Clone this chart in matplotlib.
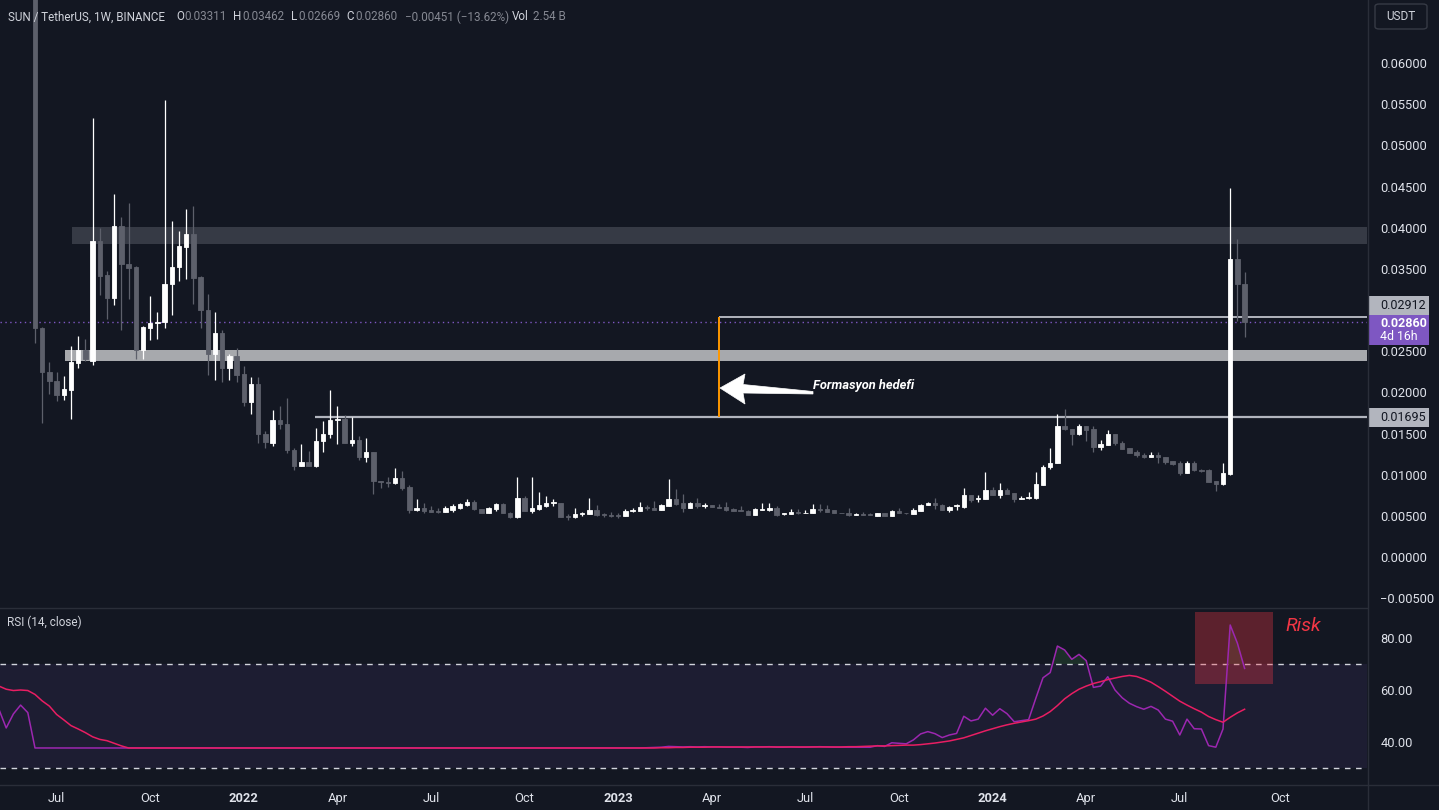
import matplotlib
matplotlib.use('Agg')
import matplotlib.pyplot as plt
import matplotlib.dates as mdates
from matplotlib.patches import Rectangle, Polygon, FancyBboxPatch
from matplotlib.lines import Line2D
from matplotlib.ticker import FuncFormatter
import numpy as np
import pandas as pd

plt.rcParams['font.family'] = ['Roboto', 'DejaVu Sans']

# ---------------- data (weekly candles, SUN/USDT) ----------------
first_week = '2021-06-14'
opens = [
    0.0850, 0.0278, 0.0225, 0.0214, 0.0197, 0.0203, 0.0236, 0.0251, 0.0238, 0.0384,
    0.0342, 0.0315, 0.0402, 0.0356, 0.0352, 0.0251, 0.0278, 0.0284, 0.0285, 0.0331,
    0.0352, 0.0377, 0.0392, 0.0340, 0.0300, 0.0247, 0.0272, 0.0230, 0.0244, 0.0222,
    0.0188, 0.0210, 0.0149, 0.0139, 0.0167, 0.0162, 0.0130, 0.0111, 0.0115, 0.0110,
    0.0141, 0.0149, 0.0166, 0.0168, 0.0139, 0.0142, 0.0121, 0.0128, 0.0092, 0.0091,
    0.0090, 0.0096, 0.0085, 0.0057, 0.0060, 0.0057, 0.0056, 0.0055, 0.0057, 0.0059,
    0.0063, 0.0067, 0.0058, 0.0054, 0.0058, 0.0064, 0.0054, 0.0048, 0.0072, 0.0056,
    0.0058, 0.0062, 0.0065, 0.0065, 0.0050, 0.0048, 0.0052, 0.0052, 0.0057, 0.0052,
    0.0051, 0.0051, 0.0050, 0.0056, 0.0056, 0.0061, 0.0060, 0.0057, 0.0062, 0.0070,
    0.0065, 0.0060, 0.0065, 0.0062, 0.0063, 0.0061, 0.0061, 0.0058, 0.0057, 0.0056,
    0.0051, 0.0057, 0.0057, 0.0060, 0.0052, 0.0052, 0.0055, 0.0053, 0.0053, 0.0058,
    0.0058, 0.0057, 0.0054, 0.0053, 0.0051, 0.0052, 0.0052, 0.0050, 0.0053, 0.0050,
    0.0056, 0.0054, 0.0052, 0.0056, 0.0063, 0.0066, 0.0063, 0.0057, 0.0062, 0.0061,
    0.0075, 0.0070, 0.0071, 0.0081, 0.0075, 0.0081, 0.0078, 0.0071, 0.0072, 0.0072,
    0.0088, 0.0109, 0.0114, 0.0159, 0.0156, 0.0149, 0.0159, 0.0155, 0.0134, 0.0136,
    0.0149, 0.0139, 0.0132, 0.0127, 0.0124, 0.0121, 0.0124, 0.0122, 0.0116, 0.0114,
    0.0102, 0.0114, 0.0106, 0.0106, 0.0092, 0.0089, 0.0101, 0.0362, 0.03311,
]
highs = [
    0.0950, 0.0279, 0.0237, 0.0225, 0.0220, 0.0256, 0.0268, 0.0265, 0.0533, 0.0400,
    0.0347, 0.0441, 0.0413, 0.0430, 0.0354, 0.0280, 0.0317, 0.0298, 0.0555, 0.0408,
    0.0396, 0.0423, 0.0426, 0.0341, 0.0319, 0.0298, 0.0276, 0.0246, 0.0254, 0.0232,
    0.0219, 0.0219, 0.0153, 0.0179, 0.0183, 0.0193, 0.0132, 0.0137, 0.0129, 0.0157,
    0.0165, 0.0203, 0.0183, 0.0173, 0.0170, 0.0147, 0.0145, 0.0128, 0.0092, 0.0097,
    0.0108, 0.0105, 0.0088, 0.0071, 0.0066, 0.0062, 0.0059, 0.0062, 0.0064, 0.0066,
    0.0071, 0.0069, 0.0058, 0.0061, 0.0066, 0.0066, 0.0055, 0.0097, 0.0074, 0.0097,
    0.0079, 0.0074, 0.0071, 0.0066, 0.0052, 0.0060, 0.0055, 0.0072, 0.0063, 0.0053,
    0.0055, 0.0053, 0.0058, 0.0060, 0.0067, 0.0063, 0.0068, 0.0064, 0.0095, 0.0083,
    0.0077, 0.0067, 0.0072, 0.0065, 0.0063, 0.0064, 0.0067, 0.0059, 0.0062, 0.0057,
    0.0060, 0.0065, 0.0065, 0.0062, 0.0054, 0.0058, 0.0058, 0.0057, 0.0064, 0.0064,
    0.0063, 0.0057, 0.0054, 0.0059, 0.0054, 0.0055, 0.0053, 0.0054, 0.0054, 0.0057,
    0.0059, 0.0054, 0.0059, 0.0064, 0.0067, 0.0072, 0.0064, 0.0062, 0.0064, 0.0084,
    0.0075, 0.0075, 0.0103, 0.0085, 0.0090, 0.0084, 0.0078, 0.0074, 0.0079, 0.0103,
    0.0112, 0.0132, 0.0174, 0.0180, 0.0156, 0.0162, 0.0159, 0.0159, 0.0142, 0.0154,
    0.0150, 0.0141, 0.0132, 0.0130, 0.0126, 0.0128, 0.0128, 0.0122, 0.0116, 0.0117,
    0.0117, 0.0117, 0.0107, 0.0107, 0.0092, 0.0114, 0.0448, 0.0386, 0.03462,
]
lows = [
    0.0260, 0.0163, 0.0198, 0.0190, 0.0191, 0.0168, 0.0229, 0.0238, 0.0233, 0.0318,
    0.0289, 0.0306, 0.0276, 0.0313, 0.0240, 0.0240, 0.0263, 0.0265, 0.0278, 0.0294,
    0.0335, 0.0338, 0.0307, 0.0278, 0.0221, 0.0215, 0.0212, 0.0215, 0.0212, 0.0183,
    0.0174, 0.0139, 0.0132, 0.0135, 0.0155, 0.0126, 0.0106, 0.0110, 0.0110, 0.0109,
    0.0127, 0.0144, 0.0137, 0.0138, 0.0135, 0.0118, 0.0115, 0.0077, 0.0084, 0.0085,
    0.0089, 0.0081, 0.0054, 0.0056, 0.0053, 0.0055, 0.0053, 0.0055, 0.0055, 0.0058,
    0.0062, 0.0057, 0.0054, 0.0053, 0.0056, 0.0053, 0.0047, 0.0047, 0.0056, 0.0053,
    0.0057, 0.0061, 0.0062, 0.0049, 0.0045, 0.0047, 0.0050, 0.0052, 0.0050, 0.0049,
    0.0048, 0.0047, 0.0050, 0.0055, 0.0056, 0.0057, 0.0057, 0.0057, 0.0062, 0.0063,
    0.0055, 0.0060, 0.0060, 0.0059, 0.0061, 0.0060, 0.0056, 0.0056, 0.0056, 0.0051,
    0.0051, 0.0057, 0.0056, 0.0050, 0.0051, 0.0052, 0.0052, 0.0053, 0.0053, 0.0055,
    0.0055, 0.0053, 0.0053, 0.0050, 0.0051, 0.0051, 0.0051, 0.0050, 0.0050, 0.0050,
    0.0053, 0.0052, 0.0052, 0.0056, 0.0063, 0.0058, 0.0057, 0.0055, 0.0057, 0.0060,
    0.0067, 0.0067, 0.0071, 0.0075, 0.0072, 0.0077, 0.0067, 0.0071, 0.0071, 0.0070,
    0.0087, 0.0107, 0.0114, 0.0154, 0.0136, 0.0148, 0.0141, 0.0128, 0.0130, 0.0136,
    0.0136, 0.0131, 0.0126, 0.0122, 0.0120, 0.0121, 0.0114, 0.0113, 0.0112, 0.0100,
    0.0102, 0.0105, 0.0103, 0.0091, 0.0080, 0.0088, 0.0100, 0.0287, 0.02669,
]
closes = [
    0.0278, 0.0225, 0.0214, 0.0197, 0.0204, 0.0237, 0.0251, 0.0240, 0.0384, 0.0341,
    0.0315, 0.0402, 0.0356, 0.0351, 0.0251, 0.0279, 0.0284, 0.0285, 0.0332, 0.0352,
    0.0378, 0.0392, 0.0339, 0.0300, 0.0247, 0.0272, 0.0230, 0.0244, 0.0221, 0.0188,
    0.0210, 0.0149, 0.0140, 0.0167, 0.0162, 0.0130, 0.0111, 0.0115, 0.0110, 0.0141,
    0.0149, 0.0166, 0.0168, 0.0139, 0.0142, 0.0121, 0.0128, 0.0092, 0.0091, 0.0090,
    0.0096, 0.0084, 0.0057, 0.0060, 0.0056, 0.0055, 0.0055, 0.0059, 0.0062, 0.0064,
    0.0067, 0.0058, 0.0054, 0.0060, 0.0064, 0.0054, 0.0048, 0.0072, 0.0056, 0.0060,
    0.0063, 0.0065, 0.0067, 0.0049, 0.0048, 0.0052, 0.0054, 0.0057, 0.0051, 0.0051,
    0.0050, 0.0050, 0.0056, 0.0057, 0.0061, 0.0060, 0.0057, 0.0063, 0.0070, 0.0064,
    0.0060, 0.0065, 0.0062, 0.0063, 0.0061, 0.0060, 0.0057, 0.0056, 0.0056, 0.0051,
    0.0058, 0.0058, 0.0060, 0.0051, 0.0053, 0.0055, 0.0053, 0.0054, 0.0058, 0.0057,
    0.0055, 0.0053, 0.0053, 0.0051, 0.0052, 0.0051, 0.0051, 0.0053, 0.0050, 0.0056,
    0.0053, 0.0053, 0.0057, 0.0063, 0.0066, 0.0063, 0.0057, 0.0061, 0.0063, 0.0075,
    0.0069, 0.0072, 0.0081, 0.0075, 0.0081, 0.0077, 0.0071, 0.0072, 0.0073, 0.0089,
    0.0109, 0.0114, 0.0159, 0.0156, 0.0149, 0.0159, 0.0154, 0.0134, 0.0137, 0.0149,
    0.0139, 0.0131, 0.0126, 0.0124, 0.0121, 0.0124, 0.0121, 0.0115, 0.0113, 0.0102,
    0.0114, 0.0106, 0.0105, 0.0091, 0.0089, 0.0102, 0.0362, 0.0331, 0.02860,
]
volume_text = '2.54 B'

# RSI(14) and its moving average, starting five weeks before the first candle
rsi_first_week = '2021-05-10'
rsi = [
    52.5, 45.4, 50.8, 54.2, 51.3,
    37.7, 37.7, 37.7, 37.7, 37.7, 37.7, 37.7, 37.7, 37.7, 37.7,
    37.7, 37.7, 37.7, 37.7, 37.7, 37.7, 37.7, 37.7, 37.7, 37.7,
    37.7, 37.7, 37.7, 37.7, 37.7, 37.7, 37.7, 37.7, 37.7, 37.7,
    37.7, 37.7, 37.7, 37.7, 37.7, 37.7, 37.7, 37.7, 37.7, 37.7,
    37.7, 37.7, 37.7, 37.7, 37.7, 37.7, 37.7, 37.7, 37.7, 37.7,
    37.7, 37.7, 37.7, 37.7, 37.7, 37.7, 37.7, 37.7, 37.7, 37.7,
    37.7, 37.7, 37.7, 37.7, 37.7, 37.7, 37.7, 37.7, 37.7, 37.7,
    37.7, 37.7, 37.7, 37.7, 37.7, 37.7, 37.7, 37.7, 37.7, 37.7,
    37.7, 37.7, 37.7, 37.7, 37.7,
    37.8, 37.9, 38.0, 38.3, 38.2, 38.1, 38.2, 38.1, 38.2, 38.1,
    38.1, 38.0, 38.0, 38.0, 37.9, 38.1, 38.1, 38.2, 38.0, 38.0,
    38.1, 38.0, 38.0, 38.1, 38.2, 38.1, 38.0, 38.0,
    38.0, 38.0, 38.0, 38.0, 38.6, 38.3, 39.7, 39.5, 39.3, 40.8,
    43.1, 44.0, 43.2, 41.7, 42.7, 43.3, 49.9, 48.1, 48.8, 53.0,
    50.3, 52.8, 50.9, 47.8, 48.2, 48.6, 56.8, 64.7, 66.7, 76.9,
    75.4, 71.8, 73.7, 71.3, 61.0, 61.5, 65.1, 60.0, 57.0, 54.9,
    53.6, 52.6, 53.7, 52.3, 48.8, 48.0, 42.7, 48.8, 45.1, 45.0,
    38.6, 38.0, 45.0, 85.0, 78.0, 68.3,
]
rsi_ma = [
    61.5, 60.3, 59.8, 60.0, 59.8, 58.3, 55.8, 53.8, 50.6, 48.5,
    46.3, 45.0, 43.6, 42.0, 41.0, 40.5, 39.5, 38.5,
    37.7, 37.7, 37.7, 37.7, 37.7, 37.7, 37.7, 37.7, 37.7, 37.7,
    37.7, 37.7, 37.7, 37.7, 37.7, 37.7, 37.7, 37.7, 37.7, 37.7,
    37.7, 37.7, 37.7, 37.7, 37.7, 37.7, 37.7, 37.7, 37.7, 37.7,
    37.7, 37.7, 37.7, 37.7, 37.7, 37.7, 37.7, 37.7, 37.7, 37.7,
    37.7, 37.7, 37.7, 37.7, 37.7, 37.7, 37.7, 37.7, 37.7, 37.7,
    37.7, 37.7, 37.7, 37.7, 37.7, 37.7, 37.7, 37.7, 37.7, 37.7,
    37.7, 37.7, 37.7, 37.7, 37.7, 37.7, 37.7, 37.7, 37.7, 37.7,
    37.7, 37.7,
    37.7, 37.7, 37.8, 37.8, 37.9, 37.9, 38.0, 38.0, 38.0, 38.1,
    38.1, 38.1, 38.1, 38.1, 38.1, 38.1, 38.1, 38.1, 38.1, 38.1,
    38.1, 38.1, 38.1, 38.1, 38.1, 38.1, 38.1, 38.1,
    38.2, 38.2, 38.3, 38.4, 38.5, 38.5, 38.6, 38.7, 38.8, 38.8,
    39.0, 39.3, 39.6, 40.0, 40.4, 41.0, 41.6, 42.5, 43.4, 44.3,
    45.1, 45.9, 46.6, 47.2, 47.7, 48.2, 48.8, 50.0, 51.7, 54.0,
    56.6, 58.6, 60.3, 61.5, 62.5, 63.2, 64.0, 64.6, 65.2, 65.6,
    65.2, 64.2, 63.0, 61.3, 59.5, 57.6, 55.7, 54.2, 52.8, 51.5,
    49.8, 48.6, 47.6, 49.5, 51.2, 52.6,
]

# drawn levels
res_zone = (0.03802, 0.04008)
sup_zone = (0.02381, 0.02514)
target_level = 0.02912
neck_level = 0.01695

price_ticks = [0.06, 0.055, 0.05, 0.045, 0.04, 0.035, 0.025, 0.02, 0.015,
               0.01, 0.005, 0.0, -0.005]
rsi_ticks = [40, 60, 80]
tick_dates = ['2021-07-05', '2021-10-04', '2022-01-03', '2022-04-04', '2022-07-04',
              '2022-10-03', '2023-01-02', '2023-04-03', '2023-07-03', '2023-10-02',
              '2024-01-01', '2024-04-01', '2024-07-01', '2024-10-07']
tick_labels = ['Jul', 'Oct', '2022', 'Apr', 'Jul', 'Oct', '2023', 'Apr', 'Jul',
               'Oct', '2024', 'Apr', 'Jul', 'Oct']

# ---------------- style ----------------
W, H = 1439, 810
BG = '#131722'
BULL = '#ffffff'
BEAR = '#5d606b'
AXIS_TXT = '#dfe2ea'
SEP = '#2a2e39'
GRAY_TXT = '#868993'

def fx(px):
    return px / W

def fy(py):
    return 1 - py / H

fig = plt.figure(figsize=(W / 100, H / 100), dpi=100, facecolor=BG)
ax = fig.add_axes([0, fy(607), fx(1367), 607 / H])
axr = fig.add_axes([0, fy(784), fx(1367), (784 - 608) / H])

dates = pd.date_range(first_week, periods=len(closes), freq='7D')
x = mdates.date2num(dates)
rsi_x = mdates.date2num(pd.date_range(rsi_first_week, periods=len(rsi), freq='7D'))

PX_PER_WEEK = 7.2

def px_to_date(px):
    return x[0] + (px - 35) / PX_PER_WEEK * 7

xmin, xmax = px_to_date(0), px_to_date(1367)

for a in (ax, axr):
    a.set_facecolor(BG)
    a.set_xlim(xmin, xmax)
    for s in a.spines.values():
        s.set_visible(False)
    a.yaxis.tick_right()
    a.tick_params(axis='y', length=0, pad=9.5, labelsize=9.3, labelcolor=AXIS_TXT)

# ---------------- main price panel ----------------
ax.set_ylim((557 - 607) / 8233, 557 / 8233)

o = np.array(opens)
c = np.array(closes)
col = np.where(c >= o, BULL, BEAR)

ax.add_patch(Rectangle((px_to_date(72), res_zone[0]), xmax - px_to_date(72),
                       res_zone[1] - res_zone[0], facecolor='#363a45', lw=0, zorder=1))
ax.add_patch(Rectangle((px_to_date(65), sup_zone[0]), xmax - px_to_date(65),
                       sup_zone[1] - sup_zone[0], facecolor='#a7a9ad', lw=0, zorder=1))
ax.hlines(neck_level, px_to_date(315), xmax, color='#b2b5be', lw=1.6, zorder=2)
ax.hlines(target_level, px_to_date(719), xmax, color='#b2b5be', lw=1.4, zorder=2)
ax.vlines(px_to_date(719), neck_level, target_level, color='#ff9800', lw=1.4, zorder=2)
ax.axhline(closes[-1], color='#7e57c2', lw=1.0, ls=(0, (1, 2.5)), zorder=2)

ax.vlines(x, lows, highs, colors=col, lw=0.9, zorder=3)
ax.bar(x, np.abs(c - o), bottom=np.minimum(o, c), width=4.1, color=col,
       edgecolor=col, linewidth=0.6, zorder=4)

ax.set_yticks(price_ticks)
ax.yaxis.set_major_formatter(FuncFormatter(
    lambda v, p: f'{v:.5f}'.replace('-', '\u2212')))
ax.set_xticks([])

# arrow + label "Formasyon hedefi"
arrow_px = [(720, 388), (745, 374), (743, 384.5), (813, 391.5),
            (813, 394), (743, 393), (745, 404)]
fig.add_artist(Polygon([(fx(a), fy(b)) for a, b in arrow_px], closed=True,
                       facecolor='white', edgecolor='white', lw=0.5,
                       transform=fig.transFigure))
fig.text(fx(813), fy(385), 'Formasyon hedefi', ha='left', va='center',
         fontsize=9.3, fontstyle='italic', fontweight='bold', color='white')

# ---------------- RSI panel ----------------
axr.set_ylim(80 - (784 - 638) / 2.6, 80 + (638 - 608) / 2.6)
axr.axhspan(30, 70, facecolor='#7e57c2', alpha=0.1, lw=0, zorder=0)
axr.axhline(70, color='#d1d4dc', lw=1.0, ls=(0, (4, 4)), zorder=1)
axr.axhline(30, color='#d1d4dc', lw=1.0, ls=(0, (4, 4)), zorder=1)
r = np.array(rsi)
axr.fill_between(rsi_x, 70, r, where=r > 70, interpolate=True,
                 color='#4caf50', alpha=0.16, lw=0, zorder=1)
axr.add_patch(Rectangle((px_to_date(1195), 62.3), px_to_date(1273) - px_to_date(1195),
                        90 - 62.3, facecolor='#f23645', alpha=0.33, lw=0, zorder=2))
axr.plot(rsi_x, rsi, color='#9c27b0', lw=1.1, zorder=3)
axr.plot(rsi_x, rsi_ma, color='#e91e63', lw=1.1, zorder=4)
axr.set_yticks(rsi_ticks)
axr.yaxis.set_major_formatter(FuncFormatter(lambda v, p: f'{v:.2f}'))

axr.set_xticks(mdates.date2num(pd.to_datetime(tick_dates)))
axr.set_xticklabels(tick_labels)
axr.tick_params(axis='x', length=0, pad=6, labelsize=9.3, labelcolor=AXIS_TXT)
for lbl in axr.get_xticklabels():
    if lbl.get_text().isdigit():
        lbl.set_fontweight('bold')

fig.text(fx(1285), fy(626), 'Risk', ha='left', va='center', fontsize=14,
         fontstyle='italic', color='#f23645')
fig.text(fx(7), fy(622), 'RSI (14, close)', ha='left', va='center',
         fontsize=8.5, color='#d1d4dc')

# ---------------- separators ----------------
fig.add_artist(Line2D([0, fx(1367)], [fy(607.5)] * 2, color=SEP, lw=1))
fig.add_artist(Line2D([0, 1], [fy(784.5)] * 2, color=SEP, lw=1))
fig.add_artist(Line2D([fx(1367.5)] * 2, [0, 1], color=SEP, lw=1))

# ---------------- header ----------------
chg = closes[-1] - opens[-1]
pct = chg / opens[-1] * 100
hdr = [
    (7.7, 'SUN / TetherUS, 1W, BINANCE', '#d1d4dc'),
    (176, 'O', '#d1d4dc'), (184, f'{opens[-1]:.5f}', GRAY_TXT),
    (233.5, 'H', '#d1d4dc'), (242, f'{highs[-1]:.5f}', GRAY_TXT),
    (291, 'L', '#d1d4dc'), (298, f'{lows[-1]:.5f}', GRAY_TXT),
    (346, 'C', '#d1d4dc'), (355, f'{closes[-1]:.5f}', GRAY_TXT),
    (405, f'{chg:.5f} ({pct:.2f}%)'.replace('-', '\u2212'), GRAY_TXT),
    (512, 'Vol', '#d1d4dc'), (533, volume_text, GRAY_TXT),
]
for px, t, cc in hdr:
    fig.text(fx(px), fy(17), t, ha='left', va='center', fontsize=8.4, color=cc)

# USDT box
fig.add_artist(FancyBboxPatch((fx(1375), fy(29)), fx(52), 25 / H,
                              boxstyle='round,pad=0,rounding_size=0.003',
                              facecolor='none', edgecolor='#363a45', lw=1,
                              transform=fig.transFigure))
fig.text(fx(1401), fy(17), 'USDT', ha='center', va='center', fontsize=8.5,
         color='#d1d4dc')

# price labels on the right scale
def price_box(y0, y1, fc):
    fig.add_artist(Rectangle((fx(1368), fy(y1)), fx(61), (y1 - y0) / H,
                             facecolor=fc, lw=0, transform=fig.transFigure))

price_box(296, 315, '#b2b5be')
fig.text(fx(1380), fy(305.5), f'{target_level:.5f}', ha='left', va='center',
         fontsize=9.0, color='#131722')
price_box(315, 345, '#7e57c2')
fig.text(fx(1380), fy(323), f'{closes[-1]:.5f}', ha='left', va='center',
         fontsize=9.0, color='white', fontweight='bold')
fig.text(fx(1380), fy(337), '4d 16h', ha='left', va='center', fontsize=8.8,
         color='white')
price_box(408, 427, '#b2b5be')
fig.text(fx(1380), fy(417.5), f'{neck_level:.5f}', ha='left', va='center',
         fontsize=9.0, color='#131722')

fig.savefig('out.png', dpi=100, facecolor=BG)
plt.close(fig)
